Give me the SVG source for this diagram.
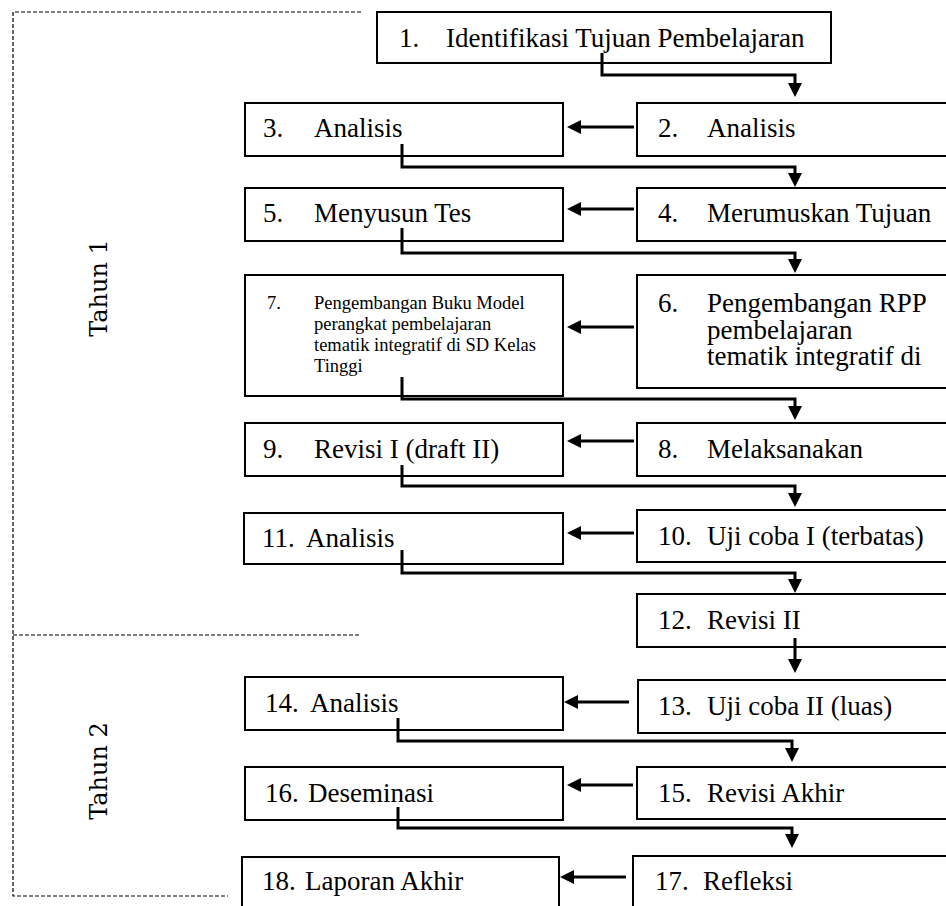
<svg xmlns="http://www.w3.org/2000/svg" width="946" height="906" viewBox="0 0 946 906">
<style>
.box{fill:#fff;stroke:#000;stroke-width:2}
.t{font-family:"Liberation Serif","Times New Roman",serif;font-size:27px;fill:#000}
.s{font-family:"Liberation Serif","Times New Roman",serif;font-size:18.5px;fill:#000}
.yr{font-family:"DejaVu Serif",serif;font-size:24px;fill:#000}
.dash{fill:none;stroke:#000;stroke-width:1.2;stroke-dasharray:4 2}
.c{fill:none;stroke:#000;stroke-width:3}
</style>
<defs>
<marker id="ah" viewBox="0 0 14 14" refX="6" refY="7" markerWidth="14" markerHeight="14" markerUnits="userSpaceOnUse" orient="auto">
<path d="M0,0 L14,7 L0,14 z" fill="#000"/>
</marker>
</defs>
<rect width="946" height="906" fill="#fff"/>
<g id="years">
<path class="dash" d="M361,12 H13 V896 H228 M13,635 H361"/>
<text class="yr" text-anchor="middle" transform="translate(107,288) rotate(-90)">Tahun 1</text>
<text class="yr" text-anchor="middle" transform="translate(107,771) rotate(-90)">Tahun 2</text>
</g>
<g id="n1"><rect class="box" x="377" y="12" width="454" height="51"/><text class="t" y="47"><tspan x="399">1.</tspan><tspan x="446">Identifikasi Tujuan Pembelajaran</tspan></text></g>
<g id="n2"><rect class="box" x="637" y="103" width="320" height="53"/><text class="t" y="137"><tspan x="658">2.</tspan><tspan x="707">Analisis</tspan></text></g>
<g id="n3"><rect class="box" x="245" y="103" width="318" height="53"/><text class="t" y="137"><tspan x="263">3.</tspan><tspan x="314">Analisis</tspan></text></g>
<g id="n4"><rect class="box" x="637" y="188" width="320" height="53"/><text class="t" y="222"><tspan x="658">4.</tspan><tspan x="707">Merumuskan Tujuan</tspan></text></g>
<g id="n5"><rect class="box" x="245" y="188" width="318" height="53"/><text class="t" y="222"><tspan x="263">5.</tspan><tspan x="314">Menyusun Tes</tspan></text></g>
<g id="n6"><rect class="box" x="637" y="275" width="320" height="113"/><text class="t"><tspan x="658" y="312">6.</tspan><tspan x="707" y="312">Pengembangan RPP</tspan><tspan x="707" y="338.5">pembelajaran</tspan><tspan x="707" y="365">tematik integratif di</tspan></text></g>
<g id="n7"><rect class="box" x="245" y="275" width="318" height="121"/><text class="s"><tspan x="267" y="309">7.</tspan><tspan x="314" y="309">Pengembangan Buku Model</tspan><tspan x="314" y="330">perangkat pembelajaran</tspan><tspan x="314" y="351">tematik integratif di SD Kelas</tspan><tspan x="314" y="372">Tinggi</tspan></text></g>
<g id="n8"><rect class="box" x="637" y="423" width="320" height="53"/><text class="t" y="458"><tspan x="658">8.</tspan><tspan x="707">Melaksanakan</tspan></text></g>
<g id="n9"><rect class="box" x="245" y="423" width="318" height="53"/><text class="t" y="458"><tspan x="263">9.</tspan><tspan x="314">Revisi I (draft II)</tspan></text></g>
<g id="n10"><rect class="box" x="637" y="510" width="320" height="52"/><text class="t" y="545"><tspan x="658">10.</tspan><tspan x="707">Uji coba I (terbatas)</tspan></text></g>
<g id="n11"><rect class="box" x="244" y="513" width="319" height="51"/><text class="t" y="547"><tspan x="262">11.</tspan><tspan x="306">Analisis</tspan></text></g>
<g id="n12"><rect class="box" x="637" y="594" width="320" height="53"/><text class="t" y="629"><tspan x="658">12.</tspan><tspan x="707">Revisi II</tspan></text></g>
<g id="n13"><rect class="box" x="638" y="680" width="320" height="53"/><text class="t" y="715"><tspan x="658">13.</tspan><tspan x="707">Uji coba II (luas)</tspan></text></g>
<g id="n14"><rect class="box" x="245" y="677" width="318" height="53"/><text class="t" y="712"><tspan x="265">14.</tspan><tspan x="310">Analisis</tspan></text></g>
<g id="n15"><rect class="box" x="637" y="767" width="320" height="52"/><text class="t" y="802"><tspan x="658">15.</tspan><tspan x="707">Revisi Akhir</tspan></text></g>
<g id="n16"><rect class="box" x="245" y="767" width="318" height="53"/><text class="t" y="802"><tspan x="265">16.</tspan><tspan x="308">Deseminasi</tspan></text></g>
<g id="n17"><rect class="box" x="633" y="856" width="320" height="60"/><text class="t" y="890"><tspan x="655">17.</tspan><tspan x="703">Refleksi</tspan></text></g>
<g id="n18"><rect class="box" x="242" y="857" width="317" height="60"/><text class="t" y="890"><tspan x="262">18.</tspan><tspan x="305">Laporan Akhir</tspan></text></g>
<g id="connectors" marker-end="url(#ah)">
<path class="c" d="M602,53 V75 H795 V89"/>
<path class="c" d="M634,127 H575"/>
<path class="c" d="M402,144 V167 H795 V179"/>
<path class="c" d="M634,209 H575"/>
<path class="c" d="M402,228 V253 H795 V265"/>
<path class="c" d="M634,327 H575"/>
<path class="c" d="M402,377 V399 H795 V412"/>
<path class="c" d="M634,441 H575"/>
<path class="c" d="M402,465 V486 H795 V499"/>
<path class="c" d="M634,533 H575"/>
<path class="c" d="M402,550 V573 H795 V585"/>
<path class="c" d="M795,638 V665"/>
<path class="c" d="M629,702 H572"/>
<path class="c" d="M398,718 V741 H792 V754"/>
<path class="c" d="M633,785 H575"/>
<path class="c" d="M398,807 V828 H792 V840"/>
<path class="c" d="M626,877 H568"/>
</g>
</svg>
